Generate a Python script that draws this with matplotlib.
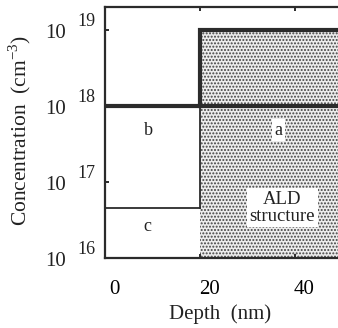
import matplotlib
matplotlib.use("Agg")
import matplotlib.pyplot as plt
import matplotlib.transforms as mtransforms

plt.rcParams['font.family'] = ['Liberation Serif', 'DejaVu Serif']
plt.rcParams['mathtext.fontset'] = 'custom'
plt.rcParams['mathtext.rm'] = 'Liberation Serif'
plt.rcParams['hatch.color'] = '#404040'
plt.rcParams['hatch.linewidth'] = 0.95

# profile data (depth in nm, concentration in cm^-3)
thick_depth = [0, 20, 20, 52]
thick_conc = [1e18, 1e18, 1e19, 1e19]
b_depth = [20, 52]
b_conc = [1e18, 1e18]
c_depth = [0, 20]
c_conc = [4.5e16, 4.5e16]
edge_depth = [20, 20]
edge_conc = [4.5e16, 1e18]
ald_depth = [20, 52]
ald_top = 1e19
ald_bottom = 1e16

xticks = [0, 20, 40]
xtick_labels = ['0', '20', '40']
ytick_exps = [16, 17, 18, 19]

region_labels = ['b', 'a', 'c']
region_x = [9.2, 36.5, 9.0]
region_y = [4.8e17, 4.8e17, 2.6e16]

fig = plt.figure(figsize=(3.38, 3.28), dpi=100)
ax = fig.add_axes([105/338, 1-258/328, 247/338, 251/328])
ax.set_yscale('log')
ax.set_xlim(0, 52)
ax.set_ylim(1e16, 2e19)

# shaded ALD region
ax.fill_between(ald_depth, ald_bottom, ald_top, facecolor='#ececec',
                hatch='.....', edgecolor='#404040', linewidth=0)

ax.plot(thick_depth, thick_conc, color='#2b2b2b', lw=3.0, solid_joinstyle='miter')
ax.plot(b_depth, b_conc, color='#2b2b2b', lw=3.0)
ax.plot(c_depth, c_conc, color='#2b2b2b', lw=1.3)
ax.plot(edge_depth, edge_conc, color='#2b2b2b', lw=1.3)

for s in ax.spines.values():
    s.set_linewidth(1.6)
    s.set_color('#2b2b2b')

ax.set_xticks(xticks)
ax.set_xticklabels(xtick_labels, fontsize=15)
ax.set_yticks([10.0**e for e in ytick_exps])
ax.set_yticklabels([''] * len(ytick_exps))
ax.minorticks_off()
ax.tick_params(direction='in', length=3, width=1.4, color='#2b2b2b',
               top=True, right=True)
ax.tick_params(axis='x', pad=16)
shift = mtransforms.ScaledTranslation(9/100, 0, fig.dpi_scale_trans)
for lab in ax.get_xticklabels():
    lab.set_transform(lab.get_transform() + shift)

# y tick labels as "10" with raised exponent
for e in ytick_exps:
    ax.annotate('10', xy=(0, 10.0**e), xycoords=('axes fraction', 'data'),
                xytext=(-39, -4), textcoords='offset pixels',
                ha='right', va='center', fontsize=15, color='#222222')
    ax.annotate(str(e), xy=(0, 10.0**e), xycoords=('axes fraction', 'data'),
                xytext=(-28, 8), textcoords='offset pixels',
                ha='left', va='center', fontsize=13, color='#222222')

for lab, x, y in zip(region_labels, region_x, region_y):
    ax.text(x, y, lab, ha='center', va='center', fontsize=13, color='#222222',
            bbox=dict(facecolor='white', edgecolor='none', pad=1.5) if lab == 'a' else None)

ax.text(37.3, 4.6e16, 'ALD\nstructure', ha='center', va='center',
        fontsize=13.5, color='#222222', linespacing=1.0,
        bbox=dict(facecolor='white', edgecolor='none', pad=2))

fig.text(220/338, 1-314/328, 'Depth  (nm)', ha='center', va='center',
         fontsize=15, color='#222222')
fig.text(20/338, 1-130/328, 'Concentration  (cm$^{\\mathrm{-3}}$)', ha='center',
         va='center', rotation=90, fontsize=15.5, color='#222222')

fig.savefig('out.png', dpi=100)
